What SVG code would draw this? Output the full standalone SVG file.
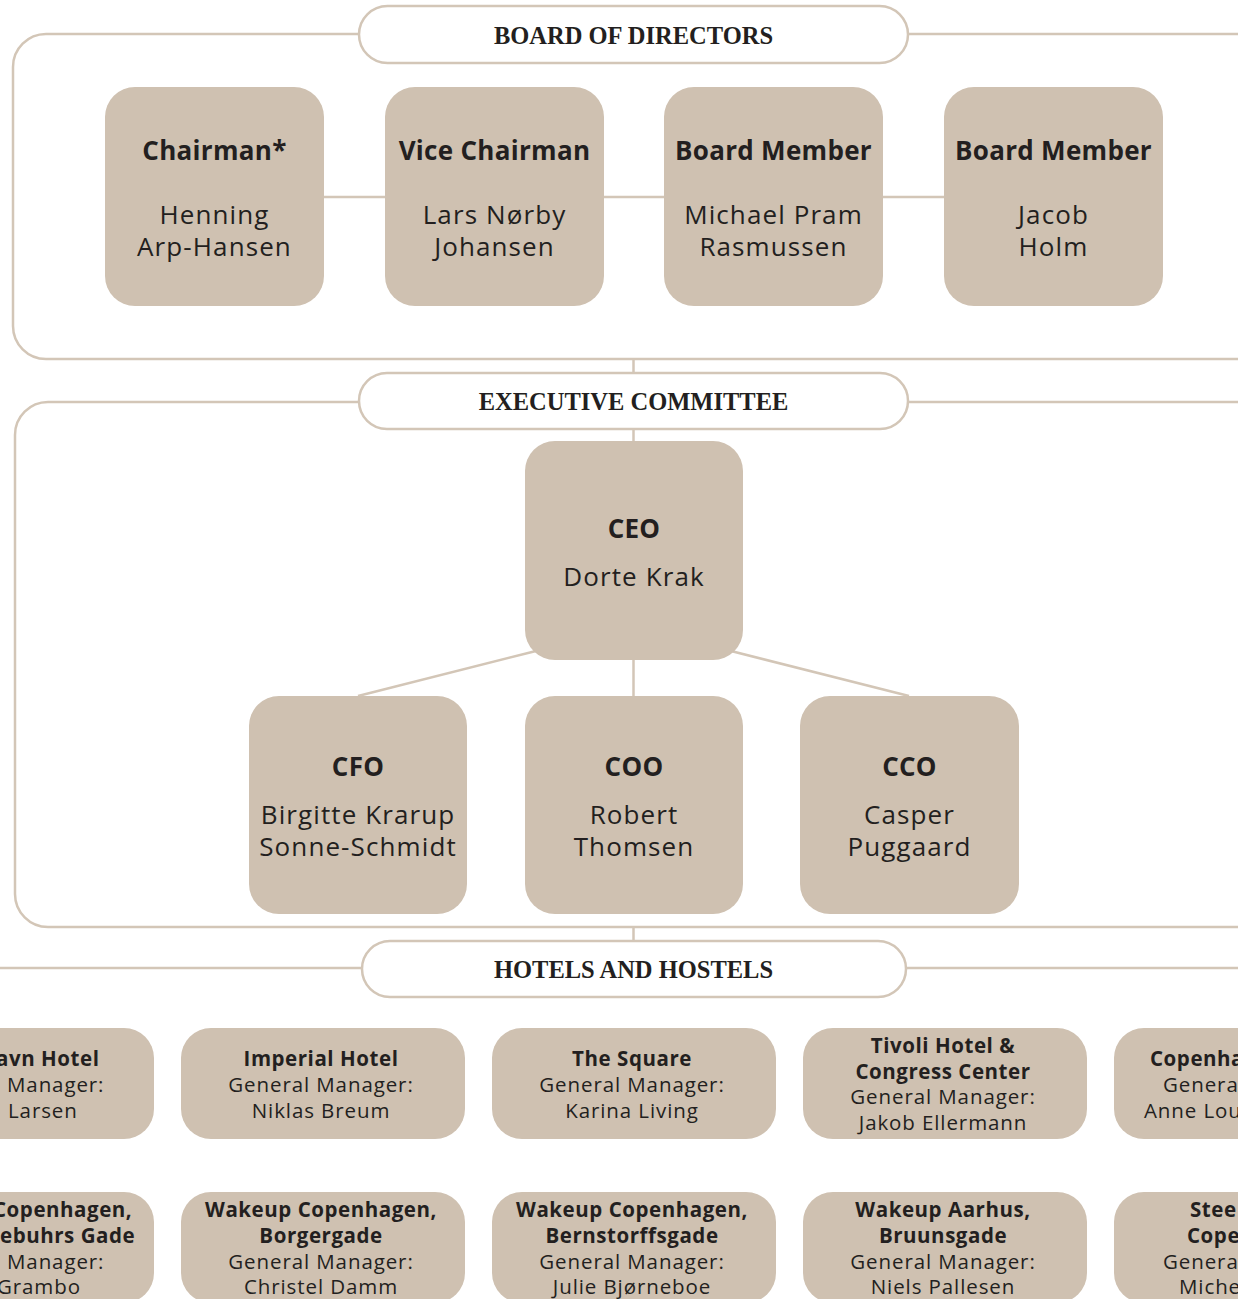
<svg xmlns="http://www.w3.org/2000/svg" width="1238" height="1299" viewBox="0 0 1238 1299">
<style>
.frame{fill:none;stroke:#d3c6b7;stroke-width:2.5}
.pill{fill:#fff;stroke:#d3c6b7;stroke-width:2.5}
.ln{fill:none;stroke:#d3c6b7;stroke-width:2.5}
.box{fill:#cfc1b1}
.hd{font-family:"Liberation Serif",serif;font-weight:bold;font-size:24.5px;fill:#231f20;text-anchor:middle}
.t{font-family:"Open Sans","Noto Sans",sans-serif;font-weight:bold;font-size:26px;fill:#231f20;text-anchor:middle;letter-spacing:0.3px}
.n{font-family:"Open Sans","Noto Sans",sans-serif;font-size:26px;fill:#231f20;text-anchor:middle;letter-spacing:1.1px}
.ht{font-family:"Open Sans","Noto Sans",sans-serif;font-weight:bold;font-size:20.5px;fill:#231f20;text-anchor:middle;letter-spacing:0.55px}
.hn{font-family:"Open Sans","Noto Sans",sans-serif;font-size:20.5px;fill:#231f20;text-anchor:middle;letter-spacing:0.9px}
.s{text-anchor:start}
</style>
<rect width="1238" height="1299" fill="#fff"/>
<g id="connectors">
<rect class="frame" x="13" y="34" width="1270" height="325" rx="33"/>
<rect class="frame" x="15" y="402" width="1270" height="525" rx="33"/>
<line class="ln" x1="0" y1="968" x2="1238" y2="968"/>
<line class="ln" x1="324" y1="197" x2="385" y2="197"/>
<line class="ln" x1="604" y1="197" x2="664" y2="197"/>
<line class="ln" x1="883" y1="197" x2="944" y2="197"/>
<line class="ln" x1="633.5" y1="359" x2="633.5" y2="373"/>
<line class="ln" x1="633.5" y1="429" x2="633.5" y2="441"/>
<line class="ln" x1="633.5" y1="660" x2="633.5" y2="696"/>
<line class="ln" x1="633.5" y1="927" x2="633.5" y2="941"/>
<line class="ln" x1="536" y1="651" x2="358" y2="696"/>
<line class="ln" x1="731" y1="651" x2="909" y2="696"/>
</g>
<g id="hdr-board"><rect class="pill" x="359" y="6" width="549" height="57" rx="28.5"/><text class="hd" x="633.5" y="44">BOARD OF DIRECTORS</text></g>
<g id="hdr-exec"><rect class="pill" x="359" y="373" width="549" height="56" rx="28"/><text class="hd" x="633.5" y="410">EXECUTIVE COMMITTEE</text></g>
<g id="hdr-hotels"><rect class="pill" x="362" y="941" width="544" height="56" rx="28"/><text class="hd" x="633.5" y="978">HOTELS AND HOSTELS</text></g>

<g id="chairman"><rect class="box" x="105" y="87" width="219" height="219" rx="30"/><text class="t" x="214.5" y="160">Chairman*</text><text class="n" x="214.5" y="224">Henning</text><text class="n" x="214.5" y="256">Arp-Hansen</text></g>
<g id="vice-chairman"><rect class="box" x="385" y="87" width="219" height="219" rx="30"/><text class="t" x="494.5" y="160">Vice Chairman</text><text class="n" x="494.5" y="224">Lars Nørby</text><text class="n" x="494.5" y="256">Johansen</text></g>
<g id="board-member-1"><rect class="box" x="664" y="87" width="219" height="219" rx="30"/><text class="t" x="773.5" y="160">Board Member</text><text class="n" x="773.5" y="224">Michael Pram</text><text class="n" x="773.5" y="256">Rasmussen</text></g>
<g id="board-member-2"><rect class="box" x="944" y="87" width="219" height="219" rx="30"/><text class="t" x="1053.5" y="160">Board Member</text><text class="n" x="1053.5" y="224">Jacob</text><text class="n" x="1053.5" y="256">Holm</text></g>

<g id="ceo"><rect class="box" x="525" y="441" width="218" height="219" rx="30"/><text class="t" x="634" y="538">CEO</text><text class="n" x="634" y="586">Dorte Krak</text></g>
<g id="cfo"><rect class="box" x="249" y="696" width="218" height="218" rx="30"/><text class="t" x="358" y="776">CFO</text><text class="n" x="358" y="824">Birgitte Krarup</text><text class="n" x="358" y="856">Sonne-Schmidt</text></g>
<g id="coo"><rect class="box" x="525" y="696" width="218" height="218" rx="30"/><text class="t" x="634" y="776">COO</text><text class="n" x="634" y="824">Robert</text><text class="n" x="634" y="856">Thomsen</text></g>
<g id="cco"><rect class="box" x="800" y="696" width="219" height="218" rx="30"/><text class="t" x="909.5" y="776">CCO</text><text class="n" x="909.5" y="824">Casper</text><text class="n" x="909.5" y="856">Puggaard</text></g>

<g id="hotel-1"><rect class="box" x="-130" y="1028" width="284" height="111" rx="30"/><text class="ht s" x="-4" y="1066">avn Hotel</text><text class="hn s" x="7" y="1092">Manager:</text><text class="hn s" x="8" y="1118">Larsen</text></g>
<g id="hotel-2"><rect class="box" x="181" y="1028" width="284" height="111" rx="30"/><text class="ht" x="321" y="1066">Imperial Hotel</text><text class="hn" x="321" y="1092">General Manager:</text><text class="hn" x="321" y="1118">Niklas Breum</text></g>
<g id="hotel-3"><rect class="box" x="492" y="1028" width="284" height="111" rx="30"/><text class="ht" x="632" y="1066">The Square</text><text class="hn" x="632" y="1092">General Manager:</text><text class="hn" x="632" y="1118">Karina Living</text></g>
<g id="hotel-4"><rect class="box" x="803" y="1028" width="284" height="111" rx="30"/><text class="ht" x="943" y="1053">Tivoli Hotel &amp;</text><text class="ht" x="943" y="1079">Congress Center</text><text class="hn" x="943" y="1104">General Manager:</text><text class="hn" x="943" y="1130">Jakob Ellermann</text></g>
<g id="hotel-5"><rect class="box" x="1114" y="1028" width="284" height="111" rx="30"/><text class="ht s" x="1150" y="1066">Copenha</text><text class="hn s" x="1163" y="1092">Genera</text><text class="hn s" x="1144" y="1118">Anne Lou</text></g>

<g id="hostel-1"><rect class="box" x="-130" y="1192" width="284" height="111" rx="30"/><text class="ht s" x="-7" y="1217">Copenhagen,</text><text class="ht s" x="0" y="1243">ebuhrs Gade</text><text class="hn s" x="7" y="1269">Manager:</text><text class="hn s" x="-3" y="1294">Grambo</text></g>
<g id="hostel-2"><rect class="box" x="181" y="1192" width="284" height="111" rx="30"/><text class="ht" x="321" y="1217">Wakeup Copenhagen,</text><text class="ht" x="321" y="1243">Borgergade</text><text class="hn" x="321" y="1269">General Manager:</text><text class="hn" x="321" y="1294">Christel Damm</text></g>
<g id="hostel-3"><rect class="box" x="492" y="1192" width="284" height="111" rx="30"/><text class="ht" x="632" y="1217">Wakeup Copenhagen,</text><text class="ht" x="632" y="1243">Bernstorffsgade</text><text class="hn" x="632" y="1269">General Manager:</text><text class="hn" x="632" y="1294">Julie Bjørneboe</text></g>
<g id="hostel-4"><rect class="box" x="803" y="1192" width="284" height="111" rx="30"/><text class="ht" x="943" y="1217">Wakeup Aarhus,</text><text class="ht" x="943" y="1243">Bruunsgade</text><text class="hn" x="943" y="1269">General Manager:</text><text class="hn" x="943" y="1294">Niels Pallesen</text></g>
<g id="hostel-5"><rect class="box" x="1114" y="1192" width="284" height="111" rx="30"/><text class="ht s" x="1190" y="1217">Stee</text><text class="ht s" x="1187" y="1243">Cope</text><text class="hn s" x="1163" y="1269">Genera</text><text class="hn s" x="1179" y="1294">Miche</text></g>
</svg>
